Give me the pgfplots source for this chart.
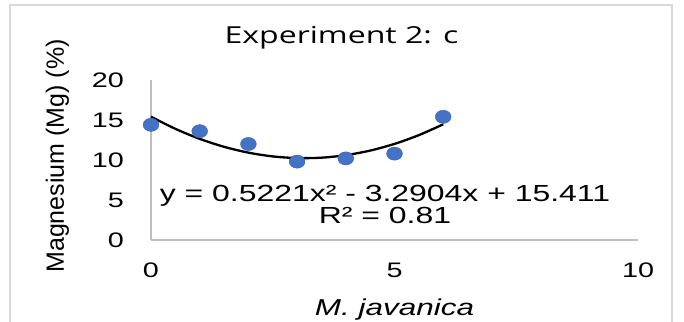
\documentclass[border=0pt]{standalone}
\usepackage{pgfplots}
\pgfplotsset{compat=1.18}
\usepackage{graphicx}
\usepackage{fontspec}
\setmainfont{Liberation Sans}
\newfontfamily\titlefont{Open Sans}
\definecolor{markblue}{HTML}{4472C4}
\definecolor{markedge}{HTML}{3B64AE}
\definecolor{axisgray}{HTML}{BFBFBF}
\definecolor{framegray}{HTML}{D9D9D9}
% horizontally widened text, as in the chart
\newcommand{\wide}[1]{\scalebox{1.37}[1]{#1}}

\pgfplotstableread{
x y
0 14.4
1 13.6
2 12.0
3 9.8
4 10.2
5 10.8
6 15.4
}\measured

% trendline y = 0.5221x^2 - 3.2904x + 15.411, tabulated
\pgfplotstableread{
x y
0   15.4110
0.5 13.8963
1   12.6427
1.5 11.6501
2   10.9186
2.5 10.4481
3   10.2387
3.5 10.2903
4   10.6030
4.5 11.1767
5   12.0115
5.5 13.1073
6   14.4642
}\trend

\begin{document}
\begin{tikzpicture}
\useasboundingbox (0,0) rectangle (684bp,322bp);
\begin{scope}
  \clip (0,0) rectangle (684bp,322bp);
  \draw[framegray, line width=2bp] (10bp,-10bp) rectangle (672bp,317bp);
\end{scope}
\begin{axis}[
  at={(151bp,82bp)}, anchor=south west,
  scale only axis, width=487bp, height=160bp,
  xmin=0, xmax=10, ymin=0, ymax=20,
  xtick={0,5,10}, ytick={0,5,10,15,20},
  xticklabels={\wide{0},\wide{5},\wide{10}},
  yticklabels={\wide{0},\wide{5},\wide{10},\wide{15},\wide{20}},
  axis lines*=left,
  axis line style={axisgray, line width=1.3bp},
  major tick length=0pt,
  tick style={draw=none},
  clip=false,
  ticklabel style={font=\fontsize{21bp}{25bp}\selectfont, inner sep=0pt},
  yticklabel style={anchor=east, xshift=-27bp},
  xticklabel style={anchor=north, yshift=-23bp},
  xlabel={\wide{\itshape M. javanica}},
  xlabel style={font=\fontsize{23bp}{27bp}\selectfont, at={(axis description cs:0.5,-0.4375)}, anchor=center, inner sep=0pt},
  ylabel={Magnesium (Mg) (\%)},
  ylabel style={font=\fontsize{25bp}{29bp}\selectfont, at={(axis description cs:-0.192,0.525)}, anchor=center, rotate=0, inner sep=0pt},
  title={\wide{Experiment 2: c}},
  title style={font=\titlefont\fontsize{23.4bp}{28bp}\selectfont, at={(axis description cs:0.391,1.192)}, anchor=base, inner sep=0pt},
]
\addplot[only marks, mark=*, mark size=6.6bp, mark options={fill=markblue, draw=markedge, line width=0.4bp, xscale=1.2}] table {\measured};
\addplot[black, line width=2.3bp, smooth] table {\trend};
\node[anchor=base, inner sep=0pt, font=\fontsize{23.3bp}{28bp}\selectfont] at (axis cs:4.805,4.79) {\wide{y = 0.5221x² - 3.2904x + 15.411}};
\node[anchor=base, inner sep=0pt, font=\fontsize{23.3bp}{28bp}\selectfont] at (axis cs:4.805,2.125) {\wide{R² = 0.81}};
\end{axis}
\end{tikzpicture}
\end{document}
